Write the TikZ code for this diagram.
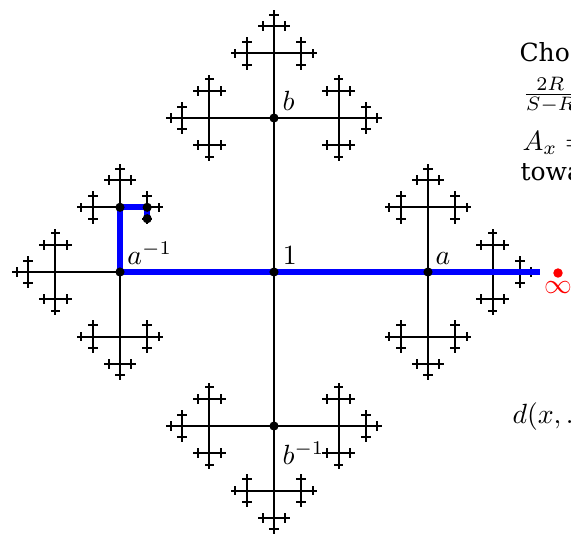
\documentclass[tikz,border=0pt]{standalone}
\usepackage{amsmath}
\usepackage{amssymb}
\usepackage{fontspec}
\newfontfamily\sidefont{DejaVu Serif}
\usetikzlibrary{positioning}

\tikzset{
    edge/.style={line width=0.75pt},
    word/.style={line width=2.2pt, blue, line join=round},
    vertex/.style={circle, fill, inner sep=0pt, minimum size=3.3pt},
    lbl/.style={inner sep=0pt},
    txt/.style={inner sep=0pt, anchor=base west}
}

% one branch of the Cayley tree, then three shorter ones at its end
\newcommand{\treebranch}[2]{%
    \draw[edge] (0,0) -- (#2,0);
    \ifnum#1>1
        \begin{scope}[shift={(#2,0)}]
            \foreach \turn in {-90,0,90} {
                \begin{scope}[rotate=\turn]
                    \treebranch{\numexpr#1-1\relax}{0.42*#2}
                \end{scope}
            }
        \end{scope}
    \fi
}

\begin{document}
\begin{tikzpicture}[x=0.36pt, y=0.36pt]
    \useasboundingbox (-274,-265) rectangle (297,272);
    \clip (-274,-265) rectangle (297,272);

    % the tree
    \foreach \dir in {0,90,180,270} {
        \begin{scope}[rotate=\dir]
            \treebranch{5}{154}
        \end{scope}
    }

    \coordinate (one) at (0,0);
    \coordinate (a) at (154,0);
    \coordinate (ainv) at (-154,0);
    \coordinate (b) at (0,154);
    \coordinate (binv) at (0,-154);
    \coordinate (w1) at (-154,64.7);
    \coordinate (w2) at (-126.8,64.7);
    \coordinate (w3) at (-126.8,53.3);
    \coordinate (tail) at (266,0);

    % the path to the boundary
    \draw[word] (ainv) -- (tail);
    \draw[word] (ainv) -- (w1) -- (w2) -- (w3);

    \foreach \v in {one,a,ainv,b,binv,w1,w2,w3}
        \node[vertex] (dot-\v) at (\v) {};

    \node[vertex, red, minimum size=3.4pt] (inf) at (284,-1) {};
    \node[lbl, red] (inflabel) [below=1pt of inf] {$\infty$};

    \node[lbl, anchor=south west] (lone) [above right=2.5pt and 3pt of one] {$1$};
    \node[lbl, anchor=south west] (la) [above right=2.5pt and 2.5pt of a] {$a$};
    \node[lbl, anchor=south west] (lainv) [above right=2.5pt and 2.5pt of ainv] {$a^{-1}$};
    \node[lbl, anchor=south west] (lb) [above right=2.5pt and 2.9pt of b] {$b$};
    \node[lbl, anchor=north west] (lbinv) [below right=5.4pt and 2.9pt of binv] {$b^{-1}$};

    % text beside the picture
    \node[txt, font=\sidefont\fontsize{9}{11}\selectfont] (t1) at (245,211) {Cho};
    \node[txt] (t2) at (248,171) {$\frac{2R}{S-R}$};
    \node[txt] (t3) at (248,122) {$A_x =$};
    \node[txt, font=\sidefont\fontsize{9}{11}\selectfont] (t4) at (246,92) {towa};
    \node[txt] (t5) at (238,-151) {$d(x,.$};
\end{tikzpicture}
\end{document}
